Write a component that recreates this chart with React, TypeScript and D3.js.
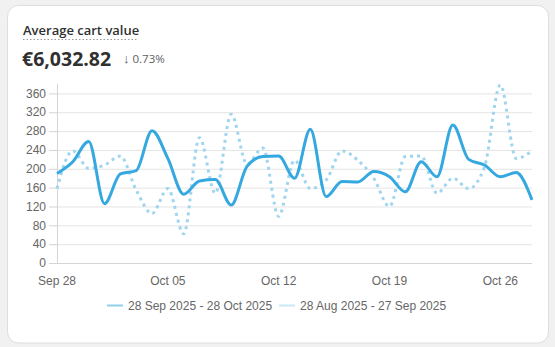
import React from 'react';
import * as d3 from 'd3';

const W = 555;
const H = 347;

// daily average cart value, current and previous period
const dates = d3.timeDay.range(new Date(2025, 8, 28), new Date(2025, 9, 29));
const currentValues = [190, 215, 258, 126, 189, 196, 281, 222, 146, 174, 177, 123, 205, 226, 227, 180, 284, 141, 173, 172, 194, 183, 151, 215, 183, 293, 220, 208, 183, 192, 134];
const previousValues = [158, 238, 201, 208, 227, 155, 105, 158, 62, 266, 148, 316, 210, 244, 99, 218, 158, 176, 238, 218, 180, 120, 226, 227, 148, 180, 158, 204, 378, 222, 238];
const yTicks = [0, 40, 80, 120, 160, 200, 240, 280, 320, 360];
const xTickDates = [new Date(2025, 8, 28), new Date(2025, 9, 5), new Date(2025, 9, 12), new Date(2025, 9, 19), new Date(2025, 9, 26)];
const legendLabels = ['28 Sep 2025 - 28 Oct 2025', '28 Aug 2025 - 27 Sep 2025'];

const CURRENT_COLOR = '#35a8e0';
const PREVIOUS_COLOR = '#9fd5ef';
const AXIS_FONT = '"Liberation Sans", Arial, sans-serif';
const TITLE_FONT = '"Open Sans", "Noto Sans", sans-serif';

const App = () => {
  const x = d3.scaleTime()
    .domain([dates[0], dates[dates.length - 1]])
    .range([57, 532]);
  const y = d3.scaleLinear().domain([0, 380]).range([263, 84]);

  const line = d3.line<number>()
    .x((_, i) => x(dates[i]))
    .y(d => y(d))
    .curve(d3.curveMonotoneX);

  const fmt = d3.timeFormat('%b %d');

  return (
    <svg width={W} height={H} style={{ position: 'fixed', left: 0, top: 0 }}>
      <rect width={W} height={H} fill="#f1f1f1" />
      <rect x={7.5} y={5.5} width={541} height={337.5} rx={11} fill="#fff" stroke="#dedede" />

      {/* header */}
      <text x={23} y={35} fontFamily={TITLE_FONT} fontSize={13} fontWeight={600} fill="#303030">
        Average cart value
      </text>
      <line x1={23} x2={137} y1={39.5} y2={39.5} stroke="#9a9a9a" strokeDasharray="1.5,2" />
      <text x={22} y={66} fontFamily={TITLE_FONT} fontSize={19.5} fontWeight={700} fill="#303030">
        €6,032.82
      </text>
      <text x={123} y={62.5} fontFamily={TITLE_FONT} fontSize={11.5} fill="#616161">
        <tspan fontSize={13}>↓</tspan> 0.73%
      </text>

      {/* grid and y axis */}
      {yTicks.map(t => (
        <g key={t}>
          <line x1={57} x2={532} y1={y(t) + 0.5} y2={y(t) + 0.5} stroke={t === 0 ? '#d4d4d4' : '#e4e4e4'} />
          <line x1={49} x2={57} y1={y(t) + 0.5} y2={y(t) + 0.5} stroke="#d4d4d4" />
          <text x={46} y={y(t)} dy="0.35em" textAnchor="end" fontFamily={AXIS_FONT} fontSize={12} fill="#666">
            {t}
          </text>
        </g>
      ))}
      <line x1={57.5} x2={57.5} y1={y(380)} y2={y(0)} stroke="#d4d4d4" />

      {/* x axis labels */}
      {xTickDates.map(d => (
        <text key={+d} x={x(d)} y={281} dy="0.35em" textAnchor="middle" fontFamily={AXIS_FONT} fontSize={12} fill="#666">
          {fmt(d)}
        </text>
      ))}

      {/* series */}
      <path d={line(previousValues) ?? ''} fill="none" stroke={PREVIOUS_COLOR} strokeWidth={3} strokeDasharray="3,4" />
      <path d={line(currentValues) ?? ''} fill="none" stroke={CURRENT_COLOR} strokeWidth={3} strokeLinejoin="round" />

      {/* legend */}
      <g fontFamily={AXIS_FONT} fontSize={12} fill="#666">
        <line x1={107} x2={123} y1={305.5} y2={305.5} stroke={CURRENT_COLOR} strokeOpacity={0.55} strokeWidth={2} />
        <text x={128} y={305.5} dy="0.35em">{legendLabels[0]}</text>
        <line x1={279} x2={295} y1={305.5} y2={305.5} stroke={PREVIOUS_COLOR} strokeOpacity={0.55} strokeWidth={2} />
        <text x={300} y={305.5} dy="0.35em">{legendLabels[1]}</text>
      </g>
    </svg>
  );
};

export default App;
